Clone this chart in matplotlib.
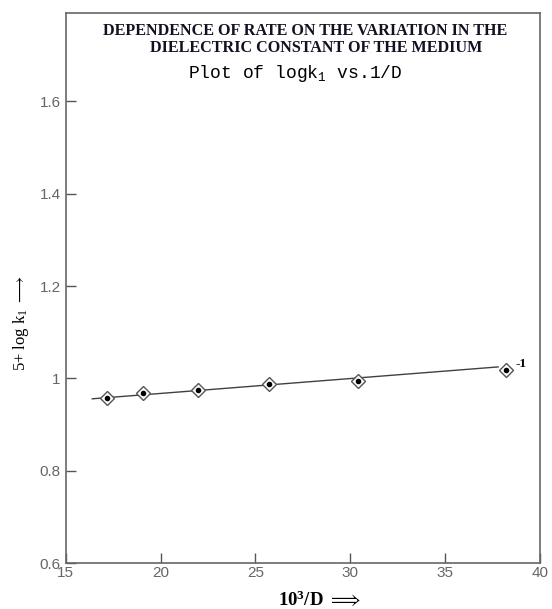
import numpy as np
import matplotlib.pyplot as plt

plt.rcParams['mathtext.fontset'] = 'custom'
plt.rcParams['mathtext.rm'] = 'Liberation Serif'
plt.rcParams['mathtext.bf'] = 'Liberation Serif:bold'
plt.rcParams['mathtext.it'] = 'Liberation Serif:italic'

# readings
inv_d = [17.2, 19.1, 22.0, 25.7, 30.4, 38.2]
log_k = [0.958, 0.969, 0.976, 0.989, 0.994, 1.019]
fit_x = [16.4, 37.8]
fit_y = [0.956, 1.025]
point_tag = '-1'

fig = plt.figure(figsize=(5.52, 6.09), dpi=100)
ax = fig.add_axes([0.119, 0.075, 0.859, 0.903])

ax.plot(fit_x, fit_y, color='#404040', lw=1.0, zorder=1)
ax.plot(inv_d, log_k, linestyle='None', marker='D', markersize=7,
        markerfacecolor='white', markeredgecolor='#555555', markeredgewidth=1.0, zorder=2)
ax.plot(inv_d, log_k, linestyle='None', marker='o', markersize=3,
        color='black', zorder=3)
ax.annotate(point_tag, (inv_d[-1], log_k[-1]), xytext=(7, 2), textcoords='offset points',
            fontsize=9.5, fontweight='bold', family='Liberation Serif')

ax.set_xlim(15, 40)
ax.set_ylim(0.6, 1.79)
ax.set_xticks([15, 20, 25, 30, 35, 40])
ax.set_yticks([0.6, 0.8, 1.0, 1.2, 1.4, 1.6])
ax.set_yticklabels(['0.6', '0.8', '1', '1.2', '1.4', '1.6'])
ax.tick_params(direction='in', length=7, width=1, color='#555555',
               labelcolor='#666666', labelsize=11)
ax.tick_params(axis='x', pad=2)
for lab in ax.get_xticklabels() + ax.get_yticklabels():
    lab.set_family('Liberation Sans')
for s in ax.spines.values():
    s.set_color('#666666')
    s.set_linewidth(1.2)

fig.text(0.553, 0.949, 'DEPENDENCE OF RATE ON THE VARIATION IN THE',
         ha='center', va='center', fontsize=11.6, fontweight='bold',
         family='Liberation Serif', color='#111122')
fig.text(0.572, 0.921, 'DIELECTRIC CONSTANT OF THE MEDIUM',
         ha='center', va='center', fontsize=11.6, fontweight='bold',
         family='Liberation Serif', color='#111122')
fig.text(0.535, 0.879, r'Plot of log$\mathregular{k_1}$ vs.1/D',
         ha='center', va='center', fontsize=13, family='Liberation Mono')

fig.text(0.038, 0.47, r'5+ log k$_{\mathregular{1}}$ $\longrightarrow$', rotation=90,
         ha='center', va='center', fontsize=12, family='Liberation Serif')
fig.text(0.578, 0.016, r'$\mathbf{10^{3}}$/D $\Longrightarrow$', ha='center', va='center',
         fontsize=13.5, fontweight='bold', family='Liberation Serif')

fig.savefig('out.png', dpi=100)
